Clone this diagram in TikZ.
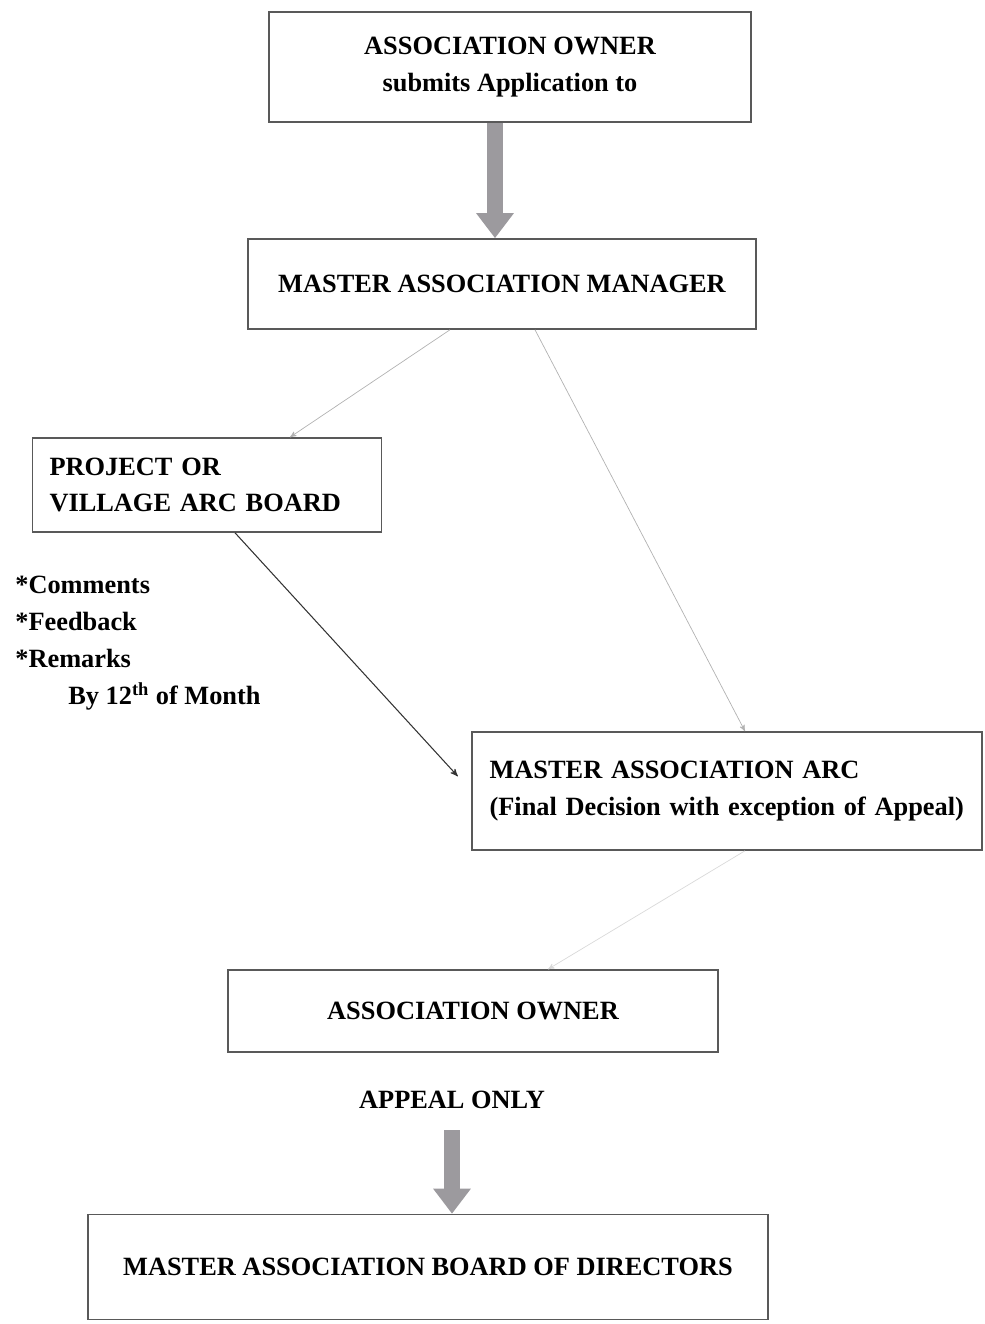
\documentclass[tikz,border=0pt]{standalone}
\usepackage{fontspec}
\setmainfont{Liberation Serif}
\usepackage{tikz}
\usetikzlibrary{arrows.meta,arrows,calc}
\definecolor{fatArrowColor}{HTML}{9C9A9E}

\begin{document}
\begin{tikzpicture}[
    x=0.02cm, y=-0.02cm,
    >=stealth',
    font=\bfseries\fontsize{15}{21}\selectfont,
    box/.style={rectangle,draw=black!65,line width=0.9pt,inner ysep=0pt},
    cbox/.style={box,align=center,inner xsep=0pt},
    lbox/.style={box,align=left},
    fat/.style={-{Triangle[width=0.72cm,length=0.5cm]},line width=0.32cm,draw=fatArrowColor},
    faint/.style={->,thin,draw=black!30},
    dark/.style={->,semithick,draw=black!80},
    ghost/.style={->,thin,draw=black!15}
]
    \useasboundingbox (0,0) rectangle (984,1324);

    \node[cbox,minimum width=9.64cm,minimum height=2.2cm] (owner) at (510,67)
        {ASSOCIATION OWNER\\submits Application to};
    \node[cbox,minimum width=10.16cm,minimum height=1.8cm] (manager) at (502,284)
        {MASTER ASSOCIATION MANAGER};
    \node[lbox,text width=6.3cm,inner xsep=0.34cm,minimum height=1.88cm] (project) at (207,485)
        {PROJECT OR\\VILLAGE ARC BOARD};
    \node[lbox,text width=9.5cm,inner xsep=0.35cm,minimum height=2.36cm] (arc) at (727,791)
        {MASTER ASSOCIATION ARC\\(Final Decision with exception of Appeal)};
    \node[cbox,minimum width=9.8cm,minimum height=1.64cm] (owner2) at (473,1011)
        {ASSOCIATION OWNER};
    \node (appeal) at (452,1100) {APPEAL ONLY};
    \node[cbox,minimum width=13.6cm,minimum height=2.1cm] (board) at (428,1267)
        {MASTER ASSOCIATION BOARD OF DIRECTORS};

    \node[align=left,inner sep=0pt,anchor=north west] (notes) at (15,576)
        {*Comments\\*Feedback\\*Remarks\\\hspace{1.06cm}By 12\textsuperscript{th} of Month};

    % application path
    \draw[fat] ($(owner.south)+(-15,0)$) -- ($(owner.south |- manager.north)+(-15,0)$);
    \draw[faint] ($(manager.south)+(-52,0)$) -- ($(project.north)+(83,0)$);
    \draw[faint] ($(manager.south)+(33,0)$) -- ($(arc.north)+(18,0)$);
    \draw[dark,shorten >=0.4cm] ($(project.south)+(28,0)$) -- (arc.west);

    % appeal path
    \draw[ghost] ($(arc.south)+(18,0)$) -- ($(owner2.north)+(75,0)$);
    \draw[fat,shorten <=0.3cm] (appeal.south) -- (appeal.south |- board.north);
\end{tikzpicture}
\end{document}
